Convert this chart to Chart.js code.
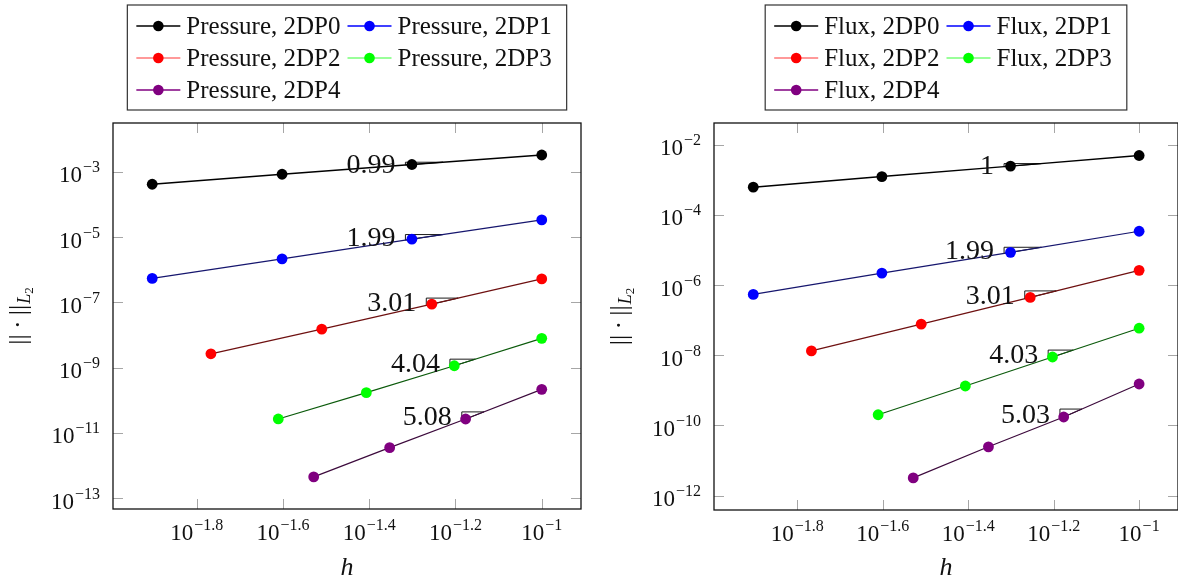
<!DOCTYPE html>
<html>
<head>
<meta charset="utf-8">
<script src="https://cdn.jsdelivr.net/npm/chart.js@4.4.1/dist/chart.umd.min.js"></script>
<style>
  html, body { margin: 0; padding: 0; background: #fff; overflow: hidden; }
  #wrap { position: relative; width: 1178px; height: 582px; overflow: hidden; }
  .pane { position: absolute; top: 0; height: 582px; }
  #paneP { left: 0; width: 590px; }
  #paneF { left: 590px; width: 588px; }
</style>
</head>
<body>
<div id="wrap">
  <div class="pane" id="paneP"><canvas id="pressure" width="590" height="582"></canvas></div>
  <div class="pane" id="paneF"><canvas id="flux" width="588" height="582"></canvas></div>
</div>
<script>
// mesh size h per polynomial degree
var hP0 = [0.0125, 0.025, 0.05, 0.1];
var hP1 = [0.0125, 0.025, 0.05, 0.1];
var hP2 = [0.0171, 0.0309, 0.0556, 0.1];
var hP3 = [0.0245, 0.0392, 0.0627, 0.1];
var hP4 = [0.0296, 0.0444, 0.0666, 0.1];

// pressure L2 errors
var pressureP0 = [4.2e-4, 8.5e-4, 1.69e-3, 3.3e-3];
var pressureP1 = [5.45e-7, 2.17e-6, 8.7e-6, 3.39e-5];
var pressureP2 = [2.67e-9, 1.52e-8, 8.87e-8, 5.27e-7];
var pressureP3 = [2.69e-11, 1.72e-10, 1.15e-9, 7.94e-9];
var pressureP4 = [4.5e-13, 3.55e-12, 2.68e-11, 2.17e-10];

// flux L2 errors
var fluxP0 = [6.18e-4, 1.24e-3, 2.46e-3, 4.94e-3];
var fluxP1 = [5.42e-7, 2.2e-6, 8.59e-6, 3.42e-5];
var fluxP2 = [1.33e-8, 7.69e-8, 4.46e-7, 2.63e-6];
var fluxP3 = [2.02e-10, 1.33e-9, 8.93e-9, 5.9e-8];
var fluxP4 = [3.2e-12, 2.46e-11, 1.74e-10, 1.52e-9];

// convergence rates written next to the slope triangles
var pressureRates = ['0.99', '1.99', '3.01', '4.04', '5.08'];
var fluxRates = ['1', '1.99', '3.01', '4.03', '5.03'];

var seriesNames = ['2DP0', '2DP1', '2DP2', '2DP3', '2DP4'];

// tick exponents (labels are 10^e)
var xTickExp = [-1.8, -1.6, -1.4, -1.2, -1];
var pressureTickExp = [-13, -11, -9, -7, -5, -3];
var fluxTickExp = [-12, -10, -8, -6, -4, -2];

var markColors = ['#000000', '#0000ff', '#ff0000', '#00ff00', '#800080'];
var lineColors = ['#000000', '#16166e', '#6e1010', '#0b5a0b', '#3c0a3c'];
var legendLineColors = ['#000000', '#0000ff', '#ff7777', '#77ff77', '#800080'];

var SERIF = '"Liberation Serif", "Times New Roman", serif';

function lg(v) { return Math.log10(v); }

function expText(e) {
  return (e < 0 ? '\u2212' : '') + String(Math.abs(e));
}

// "10" with raised exponent; align = 'center' | 'right'
function drawPow(ctx, x, baseY, e, align) {
  ctx.font = '23px ' + SERIF;
  var wb = ctx.measureText('10').width;
  ctx.font = '16px ' + SERIF;
  var we = ctx.measureText(expText(e)).width;
  var total = wb + 1 + we;
  var x0 = align === 'right' ? x - total : x - total / 2;
  ctx.textAlign = 'left';
  ctx.textBaseline = 'alphabetic';
  ctx.font = '23px ' + SERIF;
  ctx.fillText('10', x0, baseY);
  ctx.font = '16px ' + SERIF;
  ctx.fillText(expText(e), x0 + wb + 1, baseY - 10);
}

function pgfDecor(cfg) {
  return {
    id: 'pgfDecor',
    beforeDatasetsDraw: function (chart) {
      var ctx = chart.ctx, a = chart.chartArea;
      var xs = chart.scales.x, ys = chart.scales.y;
      ctx.save();
      // inner ticks, pgfplots style
      ctx.strokeStyle = '#a6a6a6';
      ctx.lineWidth = 1;
      ctx.beginPath();
      xTickExp.forEach(function (e) {
        var px = Math.round(xs.getPixelForValue(Math.pow(10, e))) + 0.5;
        ctx.moveTo(px, a.top); ctx.lineTo(px, a.top + 10);
        ctx.moveTo(px, a.bottom); ctx.lineTo(px, a.bottom - 10);
      });
      cfg.yTicks.forEach(function (e) {
        var py = Math.round(ys.getPixelForValue(Math.pow(10, e))) + 0.5;
        ctx.moveTo(a.left, py); ctx.lineTo(a.left + 10, py);
        ctx.moveTo(a.right, py); ctx.lineTo(a.right - 10, py);
      });
      ctx.stroke();
      // axis box
      ctx.strokeStyle = '#111';
      ctx.lineWidth = 1.3;
      ctx.strokeRect(a.left, a.top, a.right - a.left, a.bottom - a.top);

      // slope triangles on the last segment of each series
      ctx.strokeStyle = '#000';
      ctx.lineWidth = 0.9;
      chart.data.datasets.forEach(function (ds) {
        var p2 = ds.data[2], p3 = ds.data[3];
        var seg = lg(p3.x) - lg(p2.x);
        var k = (lg(p3.y) - lg(p2.y)) / seg;
        var xa = lg(p2.x) - 0.05 * seg, xb = lg(p2.x) + 0.24 * seg;
        var ya = lg(p2.y) - 0.05 * seg * k, yb = lg(p2.y) + 0.24 * seg * k;
        var pxa = xs.getPixelForValue(Math.pow(10, xa));
        var pxb = xs.getPixelForValue(Math.pow(10, xb));
        var pya = ys.getPixelForValue(Math.pow(10, ya));
        var pyb = ys.getPixelForValue(Math.pow(10, yb));
        ctx.beginPath();
        ctx.moveTo(pxa, pya); ctx.lineTo(pxa, pyb); ctx.lineTo(pxb, pyb); ctx.closePath();
        ctx.stroke();
        ds._tri = { x: pxa, mid: (pya + pyb) / 2 };
      });
      ctx.restore();
    },
    afterDatasetsDraw: function (chart) {
      var ctx = chart.ctx;
      ctx.save();
      ctx.fillStyle = '#111';
      ctx.font = '28px ' + SERIF;
      ctx.textAlign = 'right';
      ctx.textBaseline = 'alphabetic';
      chart.data.datasets.forEach(function (ds, i) {
        ctx.fillText(cfg.rates[i], ds._tri.x - 10, ds._tri.mid + 9);
      });
      ctx.restore();
    },
    afterDraw: function (chart) {
      var ctx = chart.ctx, a = chart.chartArea;
      var xs = chart.scales.x, ys = chart.scales.y;
      ctx.save();
      ctx.fillStyle = '#111';
      xTickExp.forEach(function (e) {
        drawPow(ctx, xs.getPixelForValue(Math.pow(10, e)), a.bottom + 31, e, 'center');
      });
      cfg.yTicks.forEach(function (e) {
        drawPow(ctx, a.left - 13, ys.getPixelForValue(Math.pow(10, e)) + 10.5, e, 'right');
      });

      // x title
      var cx = (a.left + a.right) / 2;
      ctx.font = 'italic 26px ' + SERIF;
      ctx.textAlign = 'center';
      ctx.fillText('h', cx, 575);

      // y title  ||.||_{L_2}
      ctx.save();
      ctx.translate(a.left - 92, (a.top + a.bottom) / 2);
      ctx.rotate(-Math.PI / 2);
      ctx.textAlign = 'left';
      var m = '||\u2009\u00b7\u2009||';
      ctx.font = '26px ' + SERIF;
      var w1 = ctx.measureText(m).width;
      ctx.font = 'italic 18px ' + SERIF;
      var w2 = ctx.measureText('L').width;
      ctx.font = '13px ' + SERIF;
      var w3 = ctx.measureText('2').width;
      var sx = -(w1 + w2 + w3 + 1) / 2;
      ctx.font = '26px ' + SERIF;
      ctx.fillText(m, sx, 5);
      ctx.font = 'italic 18px ' + SERIF;
      ctx.fillText('L', sx + w1 + 1, 9);
      ctx.font = '13px ' + SERIF;
      ctx.fillText('2', sx + w1 + w2 + 1, 12);
      ctx.restore();

      // legend box, two columns
      ctx.font = '25px ' + SERIF;
      var labels = chart.data.datasets.map(function (ds) { return ds.label; });
      var c1 = 0, c2 = 0;
      labels.forEach(function (t, i) {
        var w = ctx.measureText(t).width;
        if (i % 2 === 0) c1 = Math.max(c1, w); else c2 = Math.max(c2, w);
      });
      var lineLen = 44, gap = 6;
      var boxW = 9 + lineLen + gap + c1 + 7 + lineLen + gap + c2 + 15;
      var bx = cx - boxW / 2, by = 5, bh = 105;
      ctx.strokeStyle = '#333';
      ctx.lineWidth = 1.2;
      ctx.strokeRect(bx, by, boxW, bh);
      var rows = [26, 58, 90];
      labels.forEach(function (t, i) {
        var col = i % 2, row = Math.floor(i / 2);
        var lx = bx + 9 + (col ? lineLen + gap + c1 + 7 : 0);
        var ry = rows[row];
        ctx.strokeStyle = legendLineColors[i];
        ctx.lineWidth = 1.4;
        ctx.beginPath();
        ctx.moveTo(lx, ry); ctx.lineTo(lx + lineLen, ry);
        ctx.stroke();
        ctx.fillStyle = markColors[i];
        ctx.beginPath();
        ctx.arc(lx + lineLen / 2, ry, 5.3, 0, Math.PI * 2);
        ctx.fill();
        ctx.fillStyle = '#111';
        ctx.textAlign = 'left';
        ctx.fillText(t, lx + lineLen + gap, ry + 8);
      });
      ctx.restore();
    }
  };
}

function makeData(prefix, hs, vals) {
  return hs.map(function (h, i) {
    return {
      label: prefix + ', ' + seriesNames[i],
      data: h.map(function (x, j) { return { x: x, y: vals[i][j] }; }),
      borderColor: lineColors[i],
      borderWidth: i === 0 ? 1.5 : 1.2,
      backgroundColor: markColors[i],
      pointBackgroundColor: markColors[i],
      pointBorderWidth: 0,
      pointRadius: 5.4,
      tension: 0,
      fill: false
    };
  });
}

function logPlot(id, datasets, lim, box, cfg) {
  return new Chart(document.getElementById(id), {
    type: 'line',
    data: { datasets: datasets },
    options: {
      responsive: false,
      animation: false,
      devicePixelRatio: 1,
      layout: {
        autoPadding: false,
        padding: { top: box.top, right: box.right, left: 0, bottom: 0 }
      },
      plugins: { legend: { display: false }, tooltip: { enabled: false } },
      scales: {
        x: {
          type: 'logarithmic',
          min: Math.pow(10, lim.x[0]), max: Math.pow(10, lim.x[1]),
          grid: { display: false }, border: { display: false },
          ticks: { display: false },
          afterFit: function (s) { s.height = box.bottom; }
        },
        y: {
          type: 'logarithmic',
          min: Math.pow(10, lim.y[0]), max: Math.pow(10, lim.y[1]),
          grid: { display: false }, border: { display: false },
          ticks: { display: false },
          afterFit: function (s) { s.width = box.left; }
        }
      }
    },
    plugins: [pgfDecor(cfg)]
  });
}

var hs = [hP0, hP1, hP2, hP3, hP4];

logPlot('pressure',
  makeData('Pressure', hs, [pressureP0, pressureP1, pressureP2, pressureP3, pressureP4]),
  { x: [-1.994, -0.909], y: [-13.33, -1.5] },
  { top: 123, right: 9, left: 113, bottom: 73 },
  { yTicks: pressureTickExp, rates: pressureRates });

// right plot box runs past the window edge, as in the original figure
logPlot('flux',
  makeData('Flux', hs, [fluxP0, fluxP1, fluxP2, fluxP3, fluxP4]),
  { x: [-1.995, -0.909], y: [-12.41, -1.38] },
  { top: 123, right: -3, left: 124, bottom: 72 },
  { yTicks: fluxTickExp, rates: fluxRates });
</script>
</body>
</html>
